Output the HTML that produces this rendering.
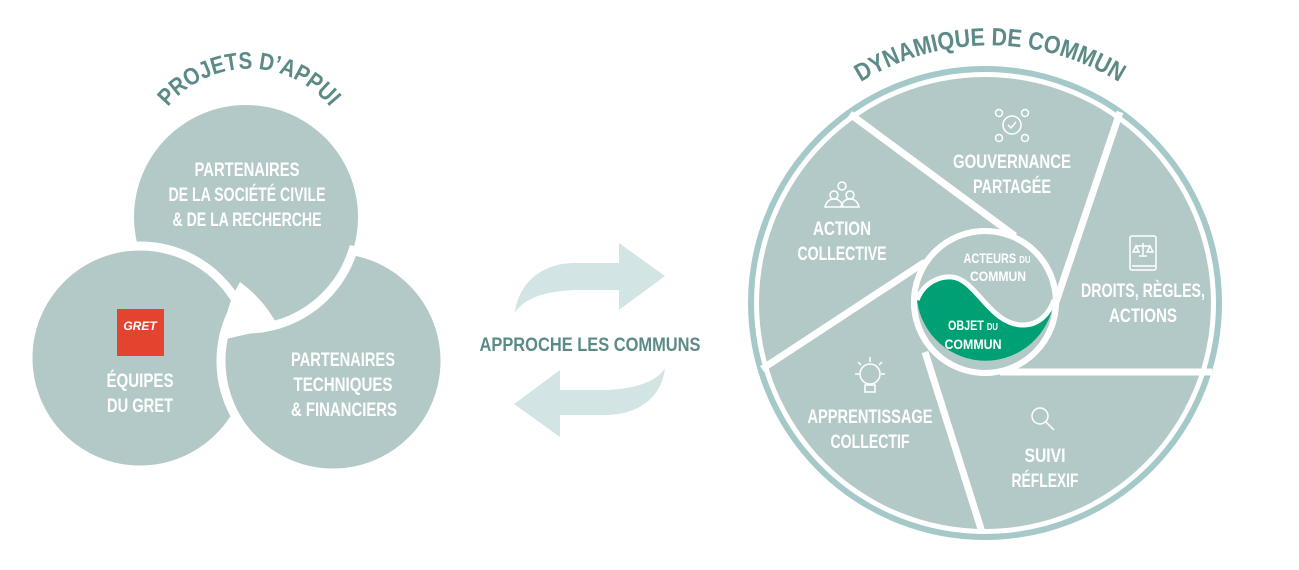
<!DOCTYPE html>
<html><head><meta charset="utf-8"><style>
html,body{margin:0;padding:0;background:#fff;width:1299px;height:570px;overflow:hidden}
svg{display:block}
text{font-family:"Liberation Sans Narrow","Liberation Sans",sans-serif;font-weight:bold}
</style></head><body>
<svg width="1299" height="570" viewBox="0 0 1299 570" xmlns="http://www.w3.org/2000/svg">
<defs>
<path id="arcL" d="M160,118 A105,105 0 0 1 338,118"/>
<path id="arcR" d="M858,84 A245,245 0 0 1 1122,84"/>
<clipPath id="clipT"><rect x="238" y="200" width="240" height="250"/></clipPath>
<clipPath id="clipC"><circle cx="333" cy="361" r="117"/></clipPath>
</defs>
<!-- LEFT -->
<text fill="#5b8a87" font-size="24" text-anchor="middle"><textPath href="#arcL" startOffset="50%" textLength="185" lengthAdjust="spacingAndGlyphs">PROJETS D’APPUI</textPath></text>
<circle cx="246" cy="217" r="112" fill="#b3c9c8"/>
<circle cx="140" cy="358" r="112" fill="#b3c9c8" stroke="#fff" stroke-width="9"/>
<circle cx="333" cy="361" r="112" fill="#b3c9c8" stroke="#fff" stroke-width="9"/>
<g clip-path="url(#clipT)"><circle cx="246" cy="217" r="112" fill="#b3c9c8" stroke="#fff" stroke-width="9" clip-path="url(#clipC)"/></g>
<path d="M240,282 Q265,300 279,328 Q250,333 222,340 Q226,305 240,282 Z" fill="#fff"/>
<g fill="#fff" font-size="19" text-anchor="middle">
<text x="247" y="176" textLength="105" lengthAdjust="spacingAndGlyphs">PARTENAIRES</text>
<text x="247" y="201" textLength="157" lengthAdjust="spacingAndGlyphs">DE LA SOCIÉTÉ CIVILE</text>
<text x="247" y="226" textLength="149" lengthAdjust="spacingAndGlyphs">&amp; DE LA RECHERCHE</text>
<text x="140" y="387" textLength="67" lengthAdjust="spacingAndGlyphs">ÉQUIPES</text>
<text x="140" y="412" textLength="66" lengthAdjust="spacingAndGlyphs">DU GRET</text>
<text x="343" y="366" textLength="104" lengthAdjust="spacingAndGlyphs">PARTENAIRES</text>
<text x="343" y="391" textLength="99" lengthAdjust="spacingAndGlyphs">TECHNIQUES</text>
<text x="344" y="416" textLength="106" lengthAdjust="spacingAndGlyphs">&amp; FINANCIERS</text>
</g>
<rect x="117" y="309" width="47" height="47" fill="#e4432f"/>
<text x="140" y="330" fill="#fff" font-size="12" font-style="italic" text-anchor="middle" font-weight="normal">GRET</text>
<!-- MIDDLE -->
<path d="M515,313 C518,285 540,263 575,263 L619,263 L619,243 L665,276 L619,310 L619,290 L580,290 C555,290 525,295 515,313 Z" fill="#d2e4e4"/>
<path d="M665,368 C662,396 640,415 605,415 L560,415 L560,437 L514,404 L560,370 L560,390 L600,390 C625,390 655,385 665,368 Z" fill="#d2e4e4"/>
<text x="590" y="351" fill="#5b8a87" font-size="19" text-anchor="middle" textLength="221" lengthAdjust="spacingAndGlyphs">APPROCHE LES COMMUNS</text>
<!-- RIGHT -->
<text fill="#5b8a87" font-size="25" text-anchor="middle"><textPath href="#arcR" startOffset="50%" textLength="272" lengthAdjust="spacingAndGlyphs">DYNAMIQUE DE COMMUN</textPath></text>
<circle cx="985" cy="303" r="234" fill="none" stroke="#a5c8c9" stroke-width="6"/>
<circle cx="985" cy="303" r="226" fill="#b3c9c8"/>
<g stroke="#fff" stroke-width="7" stroke-linecap="butt">
<line x1="850" y1="114" x2="1015" y2="236"/>
<line x1="1120" y1="112" x2="1055" y2="305"/>
<line x1="1000" y1="372" x2="1212" y2="372"/>
<line x1="925" y1="352" x2="982" y2="532"/>
<line x1="762" y1="369" x2="925" y2="262"/>
</g>
<circle cx="985" cy="302" r="71" fill="#b3c9c8" stroke="#fff" stroke-width="6"/>
<path d="M917,300 C924,282 940,276 952,277 C976,279 990,325 1023,325 C1040,325 1050,312 1054,300 A69,69 0 0 1 917,300 Z" fill="#00a075"/>
<path d="M917,300 C924,282 940,276 952,277 C976,279 990,325 1023,325 C1040,325 1050,312 1054,300" fill="none" stroke="#fff" stroke-width="5"/>
<circle cx="985" cy="302" r="71" fill="none" stroke="#fff" stroke-width="6"/>
<g fill="#fff" font-size="19" text-anchor="middle">
<text x="1012" y="168" textLength="118" lengthAdjust="spacingAndGlyphs">GOUVERNANCE</text>
<text x="1012" y="193" textLength="78" lengthAdjust="spacingAndGlyphs">PARTAGÉE</text>
<text x="842" y="235" textLength="58" lengthAdjust="spacingAndGlyphs">ACTION</text>
<text x="842" y="260" textLength="89" lengthAdjust="spacingAndGlyphs">COLLECTIVE</text>
<text x="1143" y="297" textLength="124" lengthAdjust="spacingAndGlyphs">DROITS, RÈGLES,</text>
<text x="1143" y="322" textLength="68" lengthAdjust="spacingAndGlyphs">ACTIONS</text>
<text x="870" y="423" textLength="125" lengthAdjust="spacingAndGlyphs">APPRENTISSAGE</text>
<text x="870" y="448" textLength="79" lengthAdjust="spacingAndGlyphs">COLLECTIF</text>
<text x="1045" y="462" textLength="41" lengthAdjust="spacingAndGlyphs">SUIVI</text>
<text x="1045" y="487" textLength="67" lengthAdjust="spacingAndGlyphs">RÉFLEXIF</text>
<text x="997" y="263" font-size="14" textLength="67" lengthAdjust="spacingAndGlyphs">ACTEURS <tspan font-size="10">DU</tspan></text>
<text x="998" y="281" font-size="14" textLength="56" lengthAdjust="spacingAndGlyphs">COMMUN</text>
<text x="973" y="330" font-size="14" textLength="50" lengthAdjust="spacingAndGlyphs">OBJET <tspan font-size="10">DU</tspan></text>
<text x="973" y="349" font-size="14" textLength="57" lengthAdjust="spacingAndGlyphs">COMMUN</text>
</g>
<!-- icons -->
<g fill="none" stroke="#fff" stroke-width="1.5">
<circle cx="1012" cy="125" r="9"/><path d="M1008,125 l3,3 5,-6"/>
<circle cx="999" cy="113" r="3.5"/><circle cx="1025" cy="113" r="3.5"/><circle cx="999" cy="138" r="3.5"/><circle cx="1025" cy="138" r="3.5"/>
<circle cx="842" cy="186" r="4"/><circle cx="834" cy="195" r="4"/><circle cx="850" cy="195" r="4"/>
<path d="M825,207 q2,-8 9,-8 q7,0 9,8 z M841,207 q2,-8 9,-8 q7,0 9,8 z"/>
<rect x="1130" y="236" width="26" height="34" rx="2"/><path d="M1132,266 h24 M1143,243 v12 M1136,246 h14 M1136,246 l-3,6 h6 z M1150,246 l-3,6 h6 z M1139,256 h8"/>
<circle cx="870" cy="374" r="10"/><path d="M865,385 h10 v7 h-10 z M870,357 v5 M855,374 h4 M881,374 h4 M858,362 l3,3 M882,362 l-3,3"/>
<circle cx="1040" cy="416" r="8"/><path d="M1046,422 l8,8"/>
</g>
</svg>
</body></html>
